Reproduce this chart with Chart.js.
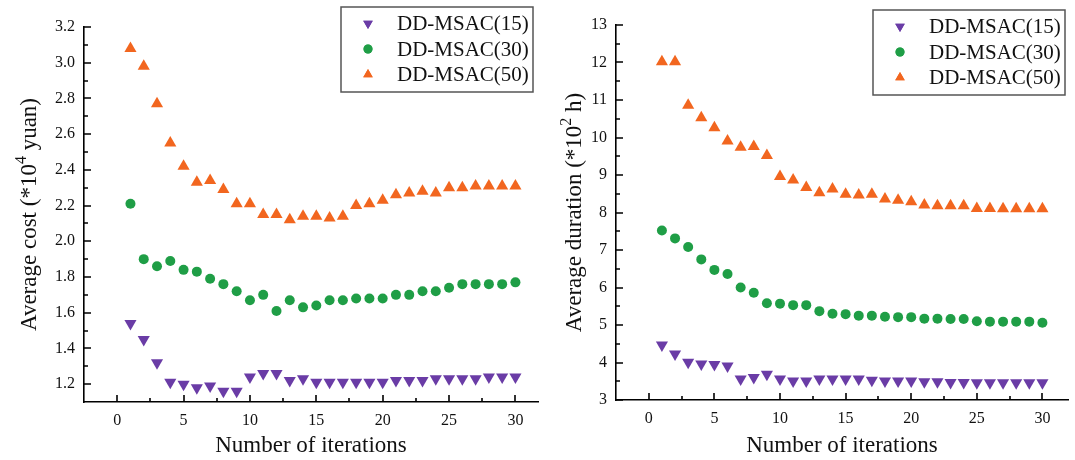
<!DOCTYPE html>
<html>
<head>
<meta charset="utf-8">
<script src="https://cdn.jsdelivr.net/npm/chart.js@4"></script>
<style>
	body { margin: 0; background: #fff; }
	#wrap { position: relative; width: 1075px; height: 460px; }
	#costBox { position: absolute; left: 0; top: 0; }
	#durationBox { position: absolute; left: 540px; top: 0; }
</style>
</head>
<body>
<div id="wrap">
	<div id="costBox"><canvas id="costChart" width="545" height="460"></canvas></div>
	<div id="durationBox"><canvas id="durationChart" width="535" height="460"></canvas></div>
</div>
<script>
// data
const iterations = [1, 2, 3, 4, 5, 6, 7, 8, 9, 10, 11, 12, 13, 14, 15, 16, 17, 18, 19, 20, 21, 22, 23, 24, 25, 26, 27, 28, 29, 30];
const seriesNames = ["DD-MSAC(15)", "DD-MSAC(30)", "DD-MSAC(50)"];

const cost15 = [1.54, 1.45, 1.32, 1.21, 1.20, 1.18, 1.19, 1.16, 1.16, 1.24, 1.26, 1.26, 1.22, 1.23, 1.21, 1.21, 1.21, 1.21, 1.21, 1.21, 1.22, 1.22, 1.22, 1.23, 1.23, 1.23, 1.23, 1.24, 1.24, 1.24];
const cost30 = [2.21, 1.90, 1.86, 1.89, 1.84, 1.83, 1.79, 1.76, 1.72, 1.67, 1.70, 1.61, 1.67, 1.63, 1.64, 1.67, 1.67, 1.68, 1.68, 1.68, 1.70, 1.70, 1.72, 1.72, 1.74, 1.76, 1.76, 1.76, 1.76, 1.77];
const cost50 = [3.08, 2.98, 2.77, 2.55, 2.42, 2.33, 2.34, 2.29, 2.21, 2.21, 2.15, 2.15, 2.12, 2.14, 2.14, 2.13, 2.14, 2.20, 2.21, 2.23, 2.26, 2.27, 2.28, 2.27, 2.30, 2.30, 2.31, 2.31, 2.31, 2.31];

const duration15 = [4.47, 4.23, 4.01, 3.96, 3.95, 3.91, 3.56, 3.60, 3.69, 3.56, 3.51, 3.51, 3.56, 3.56, 3.56, 3.56, 3.53, 3.51, 3.51, 3.51, 3.49, 3.49, 3.47, 3.47, 3.46, 3.46, 3.46, 3.46, 3.46, 3.46];
const duration30 = [7.52, 7.31, 7.08, 6.75, 6.47, 6.36, 6.00, 5.86, 5.58, 5.57, 5.53, 5.53, 5.37, 5.30, 5.29, 5.25, 5.25, 5.22, 5.21, 5.21, 5.17, 5.17, 5.16, 5.16, 5.10, 5.09, 5.09, 5.09, 5.09, 5.06];
const duration50 = [12.02, 12.02, 10.86, 10.53, 10.26, 9.91, 9.74, 9.76, 9.52, 8.96, 8.87, 8.67, 8.53, 8.63, 8.49, 8.47, 8.49, 8.36, 8.33, 8.29, 8.20, 8.18, 8.18, 8.18, 8.11, 8.11, 8.10, 8.10, 8.10, 8.10];

const xTicks = [0, 5, 10, 15, 20, 25, 30];
const costTicks = [1.2, 1.4, 1.6, 1.8, 2.0, 2.2, 2.4, 2.6, 2.8, 3.0, 3.2];
const durationTicks = [3, 4, 5, 6, 7, 8, 9, 10, 11, 12, 13];

const colors = ["#6a3ca6", "#1f9e46", "#f2661f"];
const serif = "'Liberation Serif', 'DejaVu Serif', serif";

function midpoints(values) {
	let mids = [];
	for (let i = 1; i < values.length; i++) {
		mids = [...mids, (values[i - 1] + values[i]) / 2];
	}
	return mids;
}

function toPoints(values) {
	return values.map((v, i) => ({ x: iterations[i], y: v }));
}

// inward major/minor tick marks, taken from the scales' own ticks
const axisTicks = {
	id: "axisTicks",
	afterDraw(chart) {
		const { ctx, chartArea, scales } = chart;
		const xVals = scales.x.ticks.map((t) => t.value);
		const yVals = scales.y.ticks.map((t) => t.value);
		ctx.save();
		ctx.strokeStyle = "#000";
		ctx.lineWidth = 1.6;
		ctx.beginPath();
		const xMarks = (vals, len) => vals.forEach((v) => {
			const px = Math.round(scales.x.getPixelForValue(v));
			ctx.moveTo(px, chartArea.bottom);
			ctx.lineTo(px, chartArea.bottom - len);
		});
		const yMarks = (vals, len) => vals.forEach((v) => {
			const py = Math.round(scales.y.getPixelForValue(v));
			ctx.moveTo(chartArea.left, py);
			ctx.lineTo(chartArea.left + len, py);
		});
		xMarks(xVals, 7);
		xMarks(midpoints(xVals), 4);
		yMarks(yVals, 7);
		yMarks(midpoints(yVals), 4);
		ctx.stroke();
		ctx.restore();
	},
};

// rotated y title with a superscript part
const yTitle = {
	id: "yTitle",
	afterDraw(chart, args, opts) {
		const { ctx, chartArea } = chart;
		const size = 23;
		const big = size + "px " + serif;
		const small = Math.round(size * 0.68) + "px " + serif;
		ctx.save();
		ctx.fillStyle = "#111";
		ctx.textBaseline = "alphabetic";
		ctx.font = big;
		const w1 = ctx.measureText(opts.before).width;
		const w3 = ctx.measureText(opts.after).width;
		ctx.font = small;
		const w2 = ctx.measureText(opts.sup).width;
		const total = w1 + w2 + w3;
		ctx.translate(opts.x, (chartArea.top + chartArea.bottom) / 2);
		ctx.rotate(-Math.PI / 2);
		let x = -total / 2;
		const base = size * 0.35;
		ctx.font = big;
		ctx.fillText(opts.before, x, base);
		x += w1;
		ctx.font = small;
		ctx.fillText(opts.sup, x, base - size * 0.42);
		x += w2;
		ctx.font = big;
		ctx.fillText(opts.after, x, base);
		ctx.restore();
	},
};

// framed legend inside the plot
const boxLegend = {
	id: "boxLegend",
	afterDraw(chart, args, opts) {
		const { ctx } = chart;
		ctx.save();
		ctx.fillStyle = "#fff";
		ctx.fillRect(opts.x, opts.y, opts.w, opts.h);
		ctx.strokeStyle = "#555";
		ctx.lineWidth = 1.5;
		ctx.strokeRect(opts.x, opts.y, opts.w, opts.h);
		ctx.font = "21px " + serif;
		ctx.textBaseline = "middle";
		chart.data.datasets.forEach((ds, i) => {
			const cy = opts.y + 16.5 + i * 25.5;
			const isCircle = ds.pointStyle === "circle";
			ctx.fillStyle = ds.backgroundColor;
			Chart.helpers.drawPoint(ctx, {
				pointStyle: ds.pointStyle,
				rotation: ds.pointRotation || 0,
				radius: isCircle ? 4.5 : 5.5,
				borderWidth: 0,
			}, opts.x + 27, cy);
			ctx.fill();
			ctx.fillStyle = "#111";
			ctx.fillText(ds.label, opts.x + 56, cy + 1);
		});
		ctx.restore();
	},
};

function makeDatasets(s15, s30, s50) {
	return [
		{
			label: seriesNames[0],
			data: toPoints(s15),
			backgroundColor: colors[0],
			borderColor: colors[0],
			pointStyle: "triangle",
			pointRotation: 180,
			pointRadius: 7,
			pointBorderWidth: 0,
		},
		{
			label: seriesNames[1],
			data: toPoints(s30),
			backgroundColor: colors[1],
			borderColor: colors[1],
			pointStyle: "circle",
			pointRadius: 5,
			pointBorderWidth: 0,
		},
		{
			label: seriesNames[2],
			data: toPoints(s50),
			backgroundColor: colors[2],
			borderColor: colors[2],
			pointStyle: "triangle",
			pointRadius: 7,
			pointBorderWidth: 0,
		},
	];
}

function renderChart(canvasId, datasets, cfg) {
	const canvas = document.getElementById(canvasId);
	return new Chart(canvas, {
		type: "scatter",
		data: { datasets: datasets },
		options: {
			responsive: false,
			animation: false,
			layout: {
				padding: { top: cfg.top, right: 0, left: 0, bottom: 0 },
			},
			scales: {
				x: {
					type: "linear",
					min: cfg.xMin,
					max: cfg.xMax,
					afterBuildTicks: (scale) => {
						scale.ticks = xTicks.map((v) => ({ value: v }));
					},
					afterFit: (scale) => {
						scale.height = cfg.xHeight;
					},
					border: { display: true, color: "#000", width: 1.6 },
					grid: { display: false, drawTicks: false },
					ticks: {
						autoSkip: false,
						maxRotation: 0,
						padding: 9,
						color: "#111",
						font: { family: serif, size: 16 },
					},
					title: {
						display: true,
						text: "Number of iterations",
						color: "#111",
						padding: { top: 0, bottom: 0 },
						font: { family: serif, size: 23, lineHeight: 1.2 },
					},
				},
				y: {
					type: "linear",
					min: cfg.yMin,
					max: cfg.yMax,
					afterBuildTicks: (scale) => {
						scale.ticks = cfg.yTicks.map((v) => ({ value: v }));
					},
					afterFit: (scale) => {
						scale.width = cfg.yWidth;
					},
					border: { display: true, color: "#000", width: 1.6 },
					grid: { display: false, drawTicks: false },
					ticks: {
						autoSkip: false,
						padding: 9,
						color: "#111",
						font: { family: serif, size: 16 },
						callback: cfg.yFormat,
					},
				},
			},
			plugins: {
				legend: { display: false },
				tooltip: { enabled: false },
				yTitle: cfg.title,
				boxLegend: cfg.legend,
			},
		},
		plugins: [axisTicks, yTitle, boxLegend],
	});
}

renderChart("costChart", makeDatasets(cost15, cost30, cost50), {
	top: 27,
	xMin: -2.5,
	xMax: 31.7,
	xHeight: 58,
	yMin: 1.1,
	yMax: 3.2,
	yWidth: 84,
	yTicks: costTicks,
	yFormat: (v) => v.toFixed(1),
	title: { x: 28, before: "Average cost (*10", sup: "4", after: " yuan)" },
	legend: { x: 341, y: 7, w: 192, h: 85 },
});

renderChart("durationChart", makeDatasets(duration15, duration30, duration50), {
	top: 25,
	xMin: -2.5,
	xMax: 31.95,
	xHeight: 60,
	yMin: 3,
	yMax: 13,
	yWidth: 76,
	yTicks: durationTicks,
	yFormat: (v) => String(v),
	title: { x: 33, before: "Average duration (*10", sup: "2", after: " h)" },
	legend: { x: 333, y: 10, w: 192, h: 85 },
});
</script>
</body>
</html>
